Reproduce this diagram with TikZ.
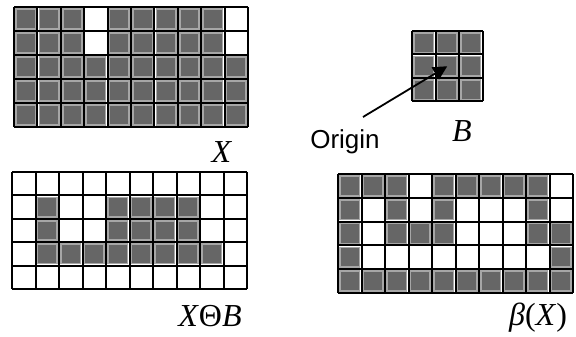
\documentclass[tikz,border=0pt]{standalone}
\usepackage{fontspec}
\setmainfont{Liberation Serif}
\newfontfamily\labelsans{Liberation Sans}
\usetikzlibrary{arrows.meta,calc}

\begin{document}
\begin{tikzpicture}[
        x=0.5pt, y=-0.5pt,
        gridline/.style={draw=black, line width=1pt},
        cellfill/.style={fill=black!60, draw=black!35, line width=0.8pt},
        serif/.style={font=\fontsize{16}{18}\selectfont},
        sanslabel/.style={font=\labelsans\fontsize{13}{15}\selectfont},
    ]
        \useasboundingbox (0,0) rectangle (576,336);
        \clip (0,0) rectangle (576,336);

        % --- X (top left) ---
        \begin{scope}[shift={(14,7)}]
            \foreach \r/\cols in {1/{1,2,3,5,6,7,8,9}, 2/{1,2,3,5,6,7,8,9},
                                  3/{1,...,10}, 4/{1,...,10}, 5/{1,...,10}}
                \foreach \c in \cols
                    \path[cellfill] ({(\c-1)*23.4+2},{(\r-1)*24+2}) rectangle ({\c*23.4-2},{\r*24-2});
            \foreach \i in {0,...,10}
                \draw[gridline] ({\i*23.4},0) -- ({\i*23.4},120);
            \foreach \j in {0,...,5}
                \draw[gridline] (0,{\j*24}) -- (234,{\j*24});
        \end{scope}

        % --- B (structuring element) ---
        \begin{scope}[shift={(412,31)}]
            \foreach \r in {1,2,3}
                \foreach \c in {1,2,3}
                    \path[cellfill] ({(\c-1)*23.5+2},{(\r-1)*23.5+2}) rectangle ({\c*23.5-2},{\r*23.5-2});
            \foreach \i in {0,...,3} {
                \draw[gridline] ({\i*23.5},0) -- ({\i*23.5},70.5);
                \draw[gridline] (0,{\i*23.5}) -- (70.5,{\i*23.5});
            }
            \coordinate (bmid) at (35.25,35.25);
        \end{scope}

        % --- X eroded by B (bottom left) ---
        \begin{scope}[shift={(12,172)}]
            \foreach \r/\cols in {2/{2,5,6,7,8}, 3/{2,5,6,7,8}, 4/{2,...,9}}
                \foreach \c in \cols
                    \path[cellfill] ({(\c-1)*23.5+2},{(\r-1)*23.4+2}) rectangle ({\c*23.5-2},{\r*23.4-2});
            \foreach \i in {0,...,10}
                \draw[gridline] ({\i*23.5},0) -- ({\i*23.5},117);
            \foreach \j in {0,...,5}
                \draw[gridline] (0,{\j*23.4}) -- (235,{\j*23.4});
        \end{scope}

        % --- boundary beta(X) (bottom right) ---
        \begin{scope}[shift={(338,174)}]
            \foreach \r/\cols in {1/{1,2,3,5,6,7,8,9}, 2/{1,3,5,9}, 3/{1,3,4,5,9,10},
                                  4/{1,10}, 5/{1,...,10}}
                \foreach \c in \cols
                    \path[cellfill] ({(\c-1)*23.5+2},{(\r-1)*23.8+2}) rectangle ({\c*23.5-2},{\r*23.8-2});
            \foreach \i in {0,...,10}
                \draw[gridline] ({\i*23.5},0) -- ({\i*23.5},119);
            \foreach \j in {0,...,5}
                \draw[gridline] (0,{\j*23.8}) -- (235,{\j*23.8});
        \end{scope}

        % --- labels ---
        \node[serif] (xlab)   at (222,152) {\textit{X}};
        \node[serif] (blab)   at (462,131) {\textit{B}};
        \node[serif] (eroded) at (210,316) {\textit{X}Θ\textit{B}};
        \node[serif] (beta)   at (538,318) {\textit{β}(\textit{X})};
        \node[sanslabel] (origin) at (345,142) {Origin};

        % --- origin arrow ---
        \coordinate (otail) at (363,117);
        \draw[line width=0.9pt, -{Triangle[length=7pt,width=7pt]}] (otail) -- (bmid);
    \end{tikzpicture}
\end{document}
